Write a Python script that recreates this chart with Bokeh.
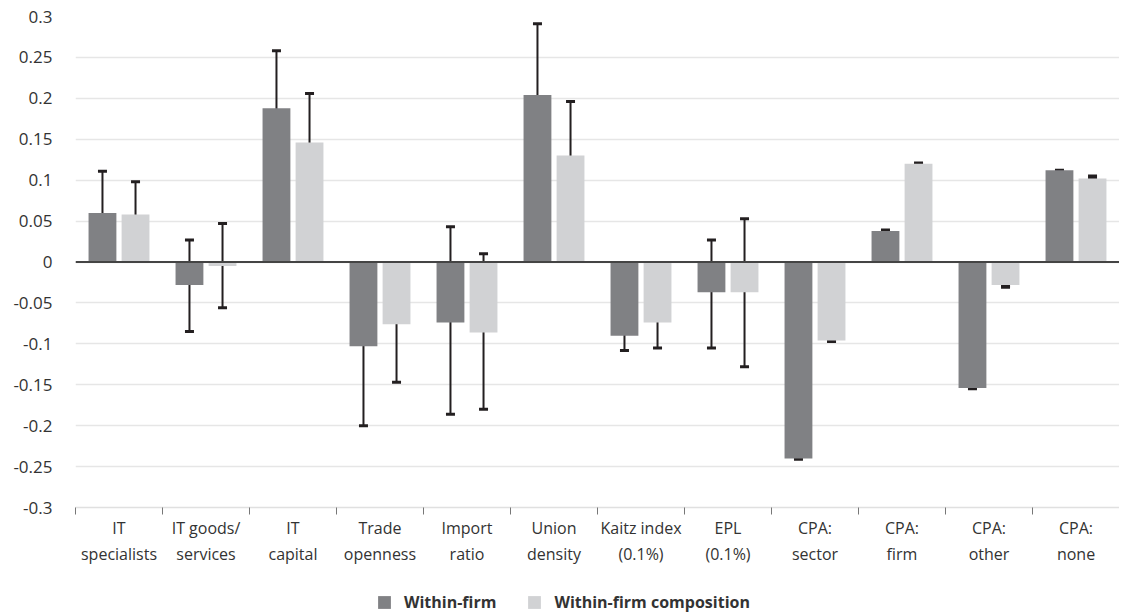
from bokeh.plotting import figure
from bokeh.layouts import column
from bokeh.models import (ColumnDataSource, Whisker, Span, FixedTicker, CustomJSTickFormatter,
                          Legend, LegendItem, Range1d, TeeHead)
from bokeh.embed import file_html
from bokeh.resources import INLINE

categories = ["IT\nspecialists", "IT goods/\nservices", "IT\ncapital", "Trade\nopenness",
              "Import\nratio", "Union\ndensity", "Kaitz index\n(0.1%)", "EPL\n(0.1%)",
              "CPA:\nsector", "CPA:\nfirm", "CPA:\nother", "CPA:\nnone"]

within_firm = [0.060, -0.028, 0.188, -0.103, -0.074, 0.204, -0.090, -0.037, -0.240, 0.038, -0.154, 0.112]
within_firm_lo = [0.013, -0.085, 0.113, -0.200, -0.186, 0.117, -0.108, -0.105, -0.241, 0.037, -0.155, 0.110]
within_firm_hi = [0.111, 0.027, 0.258, -0.009, 0.043, 0.291, -0.074, 0.027, -0.237, 0.039, -0.153, 0.112]

within_comp = [0.058, -0.005, 0.146, -0.076, -0.086, 0.130, -0.074, -0.037, -0.096, 0.120, -0.028, 0.102]
within_comp_lo = [0.015, -0.056, 0.083, -0.147, -0.180, 0.062, -0.105, -0.128, -0.097, 0.119, -0.031, 0.103]
within_comp_hi = [0.098, 0.047, 0.206, -0.002, 0.010, 0.196, -0.041, 0.053, -0.095, 0.121, -0.029, 0.105]

series_names = ["Within-firm", "Within-firm composition"]
y_ticks = [round(-0.3 + 0.05 * i, 2) for i in range(13)]

DARK = "#808184"
LIGHT = "#d1d2d4"
FONT = "Open Sans"
TEXT = "#333333"
W = 1119

idx = list(range(len(categories)))
src_wf = ColumnDataSource(dict(x=[i + 0.5 - 0.19 for i in idx], y=within_firm,
                               lo=within_firm_lo, hi=within_firm_hi))
src_wc = ColumnDataSource(dict(x=[i + 0.5 + 0.19 for i in idx], y=within_comp,
                               lo=within_comp_lo, hi=within_comp_hi))

p = figure(width=W, height=567, output_backend="svg", toolbar_location=None,
           x_range=Range1d(0, len(categories)), y_range=Range1d(-0.3, 0.3),
           min_border_left=75, min_border_right=0, min_border_top=16, min_border_bottom=10)
p.outline_line_color = None
p.background_fill_color = "white"

p.vbar(x="x", top="y", bottom=0, width=0.32, source=src_wf, fill_color=DARK, line_color=None)
p.vbar(x="x", top="y", bottom=0, width=0.32, source=src_wc, fill_color=LIGHT, line_color=None)

for src in (src_wf, src_wc):
    w = Whisker(base="x", lower="lo", upper="hi", source=src, line_color="#231f20", line_width=2,
                upper_head=TeeHead(size=9, line_color="#231f20", line_width=3),
                lower_head=TeeHead(size=9, line_color="#231f20", line_width=3))
    p.add_layout(w)

p.add_layout(Span(location=0, dimension="width", line_color="#444444", line_width=2))

# y axis
p.yaxis.ticker = FixedTicker(ticks=y_ticks)
p.yaxis.formatter = CustomJSTickFormatter(code="""
let s = tick.toFixed(2);
if (s.indexOf('.') >= 0) { s = s.replace(/0+$/, '').replace(/\\.$/, ''); }
if (s === '-0') { s = '0'; }
return s;
""")
p.yaxis.axis_line_color = None
p.yaxis.major_tick_line_color = None
p.yaxis.minor_tick_line_color = None
p.yaxis.major_label_text_font = FONT
p.yaxis.major_label_text_font_size = "17px"
p.yaxis.major_label_text_color = TEXT
p.yaxis.major_label_standoff = 17

p.ygrid.grid_line_color = "#e6e6e6"
p.ygrid.grid_line_width = 1.5
p.xgrid.grid_line_color = None

# x axis
p.xaxis.ticker = FixedTicker(ticks=[i + 0.5 for i in idx], minor_ticks=[float(i) for i in idx])
p.xaxis.formatter = CustomJSTickFormatter(args=dict(labels=categories),
                                          code="return labels[Math.floor(tick)];")
p.xaxis.axis_line_color = "#e0e0e0"
p.xaxis.axis_line_width = 1.5
p.xaxis.major_tick_line_color = None
p.xaxis.minor_tick_line_color = "#777777"
p.xaxis.minor_tick_out = 7
p.xaxis.minor_tick_in = 0
p.xaxis.major_label_text_font = FONT
p.xaxis.major_label_text_font_size = "16px"
p.xaxis.major_label_text_color = TEXT
p.xaxis.major_label_standoff = 2

# legend in its own small figure
lf = figure(width=W, height=46, output_backend="svg", toolbar_location=None,
            x_range=Range1d(0, 1), y_range=Range1d(0, 1),
            x_axis_type=None, y_axis_type=None,
            min_border_left=0, min_border_right=0, min_border_top=0, min_border_bottom=0)
lf.grid.grid_line_color = None
lf.outline_line_color = None
hidden = ColumnDataSource(dict(x=[-10.0], y=[0.0]))
lr1 = lf.vbar(x="x", top="y", width=0.1, source=hidden, fill_color=DARK, line_color=None)
lr2 = lf.vbar(x="x", top="y", width=0.1, source=hidden, fill_color=LIGHT, line_color=None)
legend = Legend(items=[LegendItem(label=series_names[0], renderers=[lr1]),
                       LegendItem(label=series_names[1], renderers=[lr2])],
                orientation="horizontal", location=(301, 0),
                label_text_font=FONT, label_text_font_size="16px", label_text_font_style="bold",
                label_text_color=TEXT, glyph_width=16, glyph_height=16, label_standoff=12,
                spacing=30, border_line_color=None, background_fill_alpha=0,
                margin=0, padding=0)
lf.add_layout(legend, "center")

open("out.html", "w").write(file_html(column(p, lf, spacing=0), INLINE))
